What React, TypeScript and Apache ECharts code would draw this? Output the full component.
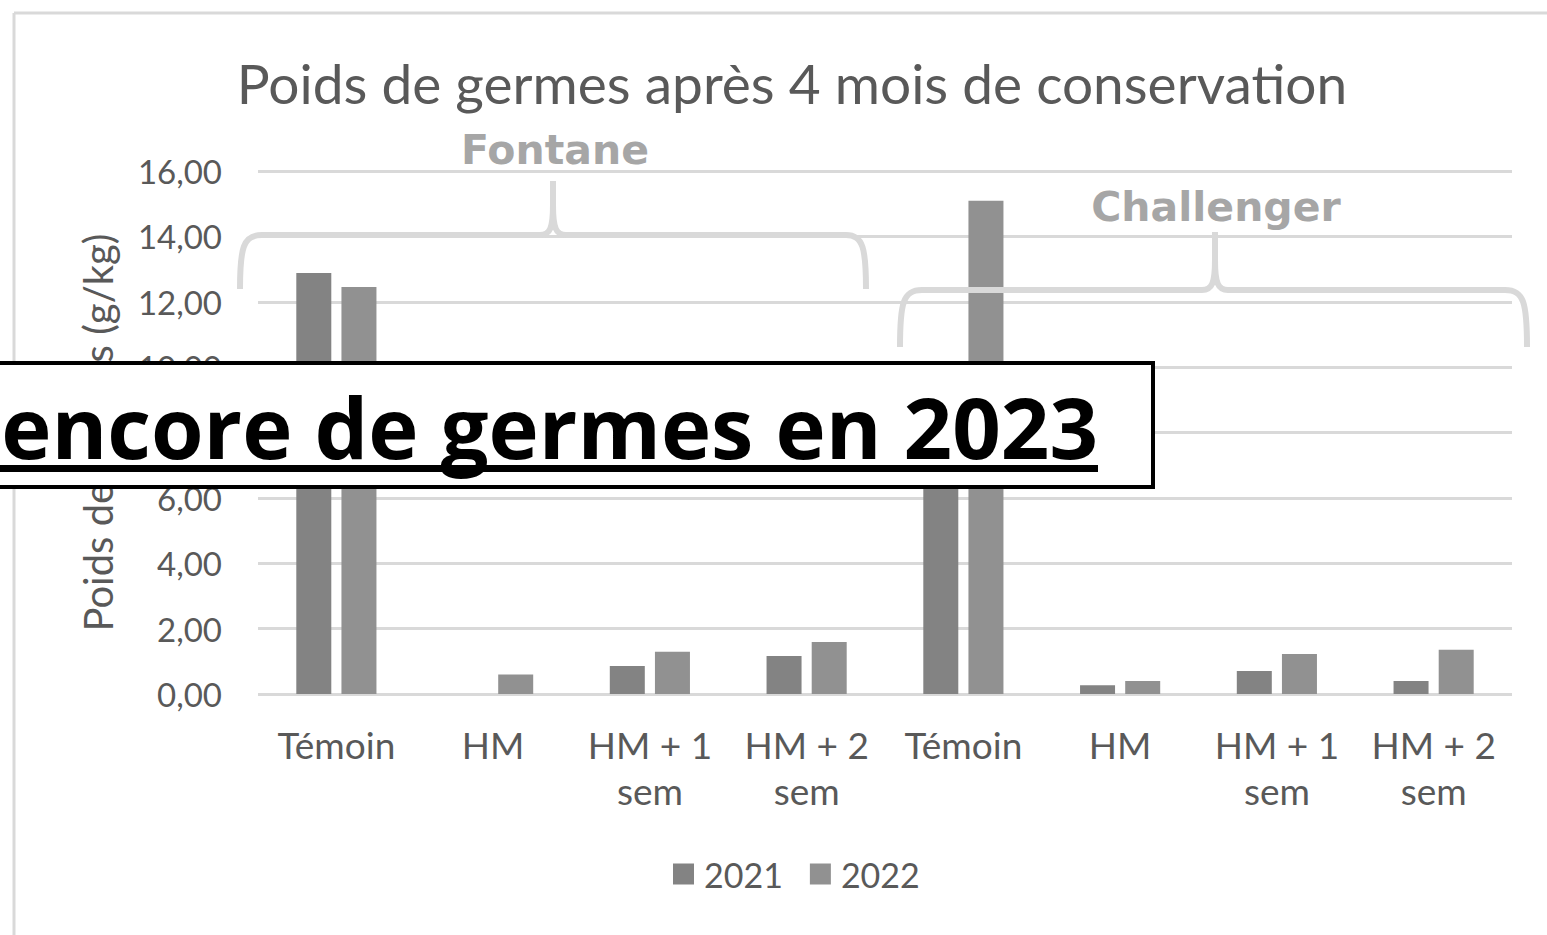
import React, { useEffect, useRef } from "react";
import * as echarts from "echarts";

const categories = ["Témoin", "HM", "HM + 1 sem", "HM + 2 sem", "Témoin", "HM", "HM + 1 sem", "HM + 2 sem"];
const values2021 = [12.88, 0, 0.86, 1.16, 9.0, 0.27, 0.7, 0.4];
const values2022 = [12.45, 0.6, 1.29, 1.59, 15.09, 0.4, 1.22, 1.35];
const seriesNames = ["2021", "2022"];
const groupLabels = ["Fontane", "Challenger"];
const titleText = "Poids de germes après 4 mois de conservation";
const yAxisName = "Poids de germes (g/kg)";
const overlayText = "encore de germes en 2023";

const FONT = "Lato, 'Open Sans', sans-serif";
const GEO = "'DejaVu Sans', sans-serif";
const BANNER = "'Open Sans', Lato, sans-serif";

echarts.graphic.registerShape(
  "braceFontane",
  echarts.graphic.extendPath(
    "M240 289 C240 248 243 235 262 235 L540 235 C550 235 553 228 553 205 L553 181 M866 289 C866 248 863 235 846 235 L566 235 C556 235 553 228 553 205",
    {}
  )
);
echarts.graphic.registerShape(
  "braceChallenger",
  echarts.graphic.extendPath(
    "M900 347 C900 303 903 290 922 290 L1202 290 C1212 290 1215 283 1215 260 L1215 232 M1527 347 C1527 303 1524 290 1505 290 L1228 290 C1218 290 1215 283 1215 260",
    {}
  )
);

export default function App() {
  const ref = useRef<HTMLDivElement>(null);
  useEffect(() => {
    const chart = echarts.init(ref.current!, null, { renderer: "svg" });
    const braceStyle = { stroke: "#d9d9d9", lineWidth: 6, fill: "none", lineCap: "butt", lineJoin: "round" };
    chart.setOption({
      animation: false,
      backgroundColor: "#ffffff",
      title: {
        text: titleText,
        left: 787,
        textAlign: "center",
        top: 50,
        textStyle: { fontFamily: FONT, fontSize: 55, fontWeight: "normal", color: "#595959" },
      },
      legend: {
        data: seriesNames,
        left: 673,
        top: 857,
        padding: 0,
        itemWidth: 21,
        itemHeight: 21,
        itemGap: 27,
        icon: "rect",
        textStyle: { fontFamily: FONT, fontSize: 34, color: "#595959", padding: [0, 0, 0, 5] },
      },
      grid: { left: 258, right: 35, top: 171, bottom: 241, containLabel: false },
      xAxis: {
        type: "category",
        data: categories,
        axisLine: { show: false },
        axisTick: { show: false },
        axisLabel: {
          interval: 0,
          margin: 27,
          fontFamily: FONT,
          fontSize: 37,
          lineHeight: 46,
          color: "#595959",
          formatter: (v: string) => v.replace(" sem", "\nsem"),
        },
      },
      yAxis: {
        type: "value",
        min: 0,
        max: 16,
        interval: 2,
        name: yAxisName,
        nameLocation: "middle",
        nameGap: 140,
        nameTextStyle: { fontFamily: FONT, fontSize: 40, color: "#595959" },
        axisLine: { show: false },
        axisTick: { show: false },
        axisLabel: {
          margin: 36,
          fontFamily: FONT,
          fontSize: 33,
          color: "#595959",
          formatter: (v: number) => v.toFixed(2).replace(".", ","),
        },
        splitLine: { lineStyle: { color: "#d9d9d9", width: 3 } },
      },
      series: [
        {
          name: seriesNames[0],
          type: "bar",
          data: values2021,
          barWidth: 35,
          barGap: "29%",
          itemStyle: { color: "#838383" },
        },
        {
          name: seriesNames[1],
          type: "bar",
          data: values2022,
          barWidth: 35,
          itemStyle: { color: "#919191" },
        },
      ],
      graphic: [
        { type: "line", shape: { x1: 14, y1: 13, x2: 1547, y2: 13 }, style: { stroke: "#d9d9d9", lineWidth: 3 } },
        { type: "line", shape: { x1: 14, y1: 13, x2: 14, y2: 935 }, style: { stroke: "#d9d9d9", lineWidth: 3 } },
        { type: "braceFontane", x: 0, y: 0, style: braceStyle, z: 10 },
        { type: "braceChallenger", x: 0, y: 0, style: braceStyle, z: 10 },
        {
          type: "text",
          x: 555,
          y: 150,
          z: 11,
          style: {
            text: groupLabels[0],
            fill: "#a6a6a6",
            font: `bold 41px ${GEO}`,
            textAlign: "center",
            textVerticalAlign: "middle",
          },
        },
        {
          type: "text",
          x: 1216,
          y: 207,
          z: 11,
          style: {
            text: groupLabels[1],
            fill: "#a6a6a6",
            font: `bold 41px ${GEO}`,
            textAlign: "center",
            textVerticalAlign: "middle",
          },
        },
        {
          type: "rect",
          z: 20,
          shape: { x: -10, y: 363, width: 1163, height: 124 },
          style: { fill: "#ffffff", stroke: "#000000", lineWidth: 4 },
        },
        {
          type: "text",
          z: 21,
          x: 1098,
          y: 426,
          style: {
            text: overlayText,
            fill: "#000000",
            font: `bold 85px ${BANNER}`,
            textAlign: "right",
            textVerticalAlign: "middle",
          },
        },
        {
          type: "rect",
          z: 21,
          shape: { x: 0, y: 465, width: 1098, height: 7 },
          style: { fill: "#000000" },
        },
      ],
    });
    return () => chart.dispose();
  }, []);
  return <div ref={ref} style={{ position: "fixed", left: 0, top: 0, width: 1547, height: 935 }} />;
}
